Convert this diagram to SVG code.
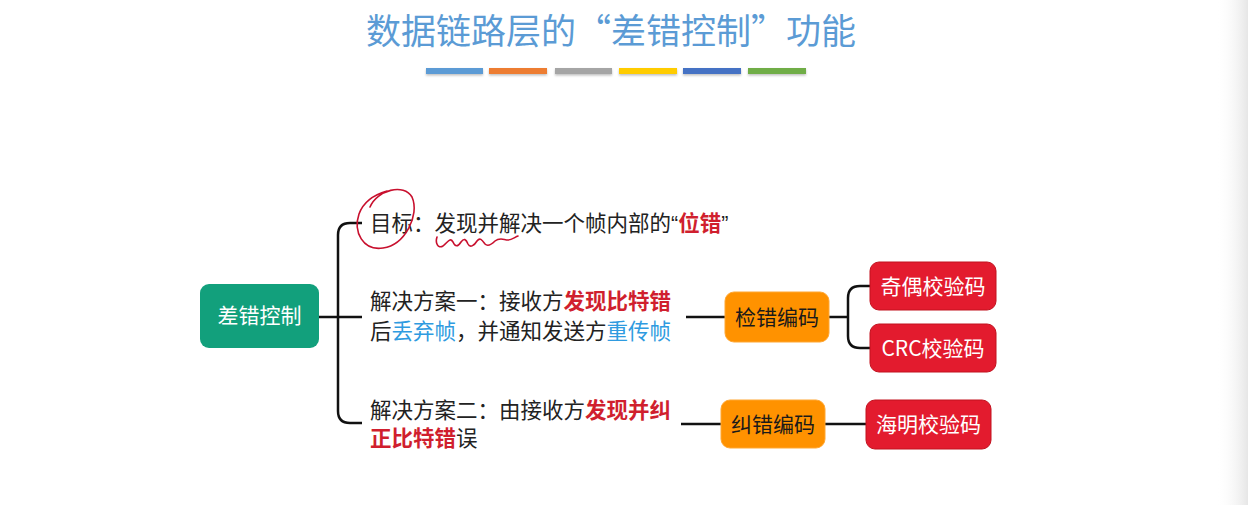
<svg xmlns="http://www.w3.org/2000/svg" width="1248" height="505" viewBox="0 0 1248 505">
  <defs>
    <linearGradient id="edge" x1="0" y1="0" x2="1" y2="0">
      <stop offset="0" stop-color="#ffffff" stop-opacity="0"/>
      <stop offset="1" stop-color="#e6e6e6"/>
    </linearGradient>
    <filter id="barShadow" x="-5%" y="-50%" width="110%" height="250%">
      <feDropShadow dx="0" dy="1.5" stdDeviation="1" flood-color="#000" flood-opacity="0.25"/>
    </filter>
    <style>
      .cjk { font-family: "Noto Sans CJK SC", "Noto Sans", sans-serif; }
      .mix { font-family: "Liberation Sans", "Noto Sans CJK SC", sans-serif; }
      .title { font-size: 35px; fill: #5b9bd5; }
      .body { font-size: 21.5px; fill: #222; }
      .red { fill: #d01f2e; font-weight: bold; }
      .blue { fill: #2f9be0; }
      .wire { fill: none; stroke: #111; stroke-width: 2.5; }
      .ink { fill: none; stroke: #c8102e; stroke-width: 1.6; stroke-linecap: round; stroke-linejoin: round; }
      .root rect { fill: #12a07c; }
      .root text { fill: #fff; font-size: 21px; }
      .mid rect { fill: #ff9200; stroke: #ffa733; stroke-width: 1; }
      .mid text { fill: #1a1a1a; font-size: 21px; }
      .leaf rect { fill: #e31b2e; stroke: #c2121f; stroke-width: 1; }
      .leaf text { fill: #fff; font-size: 21px; }
    </style>
  </defs>

  <rect width="1248" height="505" fill="#ffffff"/>
  <rect x="1216" y="0" width="32" height="505" fill="url(#edge)"/>

  <!-- heading -->
  <text class="cjk title" x="611" y="44" text-anchor="middle">数据链路层的“差错控制”功能</text>
  <g filter="url(#barShadow)">
    <rect x="426" y="68" width="57" height="6" fill="#5b9bd5"/>
    <rect x="489" y="68" width="58" height="6" fill="#ed7d31"/>
    <rect x="555" y="68" width="57" height="6" fill="#a5a5a5"/>
    <rect x="619" y="68" width="58" height="6" fill="#ffcc00"/>
    <rect x="683" y="68" width="58" height="6" fill="#4472c4"/>
    <rect x="748" y="68" width="58" height="6" fill="#70ad47"/>
  </g>

  <!-- connectors -->
  <g id="connectors">
    <path class="wire" d="M319,317 H362"/>
    <path class="wire" d="M362,223 H350 Q338,223 338,235 V411 Q338,423 350,423 H362"/>
    <path class="wire" d="M686,317 H725"/>
    <path class="wire" d="M829,317 H848"/>
    <path class="wire" d="M870,286 H860 Q848,286 848,298 V336 Q848,348 860,348 H870"/>
    <path class="wire" d="M681,424 H721"/>
    <path class="wire" d="M825,424 H866"/>
  </g>

  <!-- root -->
  <g id="node-root" class="root">
    <rect x="200" y="284" width="119" height="64" rx="9"/>
    <text class="cjk" x="259.5" y="323" text-anchor="middle">差错控制</text>
  </g>

  <!-- text branches -->
  <g id="node-goal">
    <text class="mix body" x="370" y="231">目标：发现并解决一个帧内部的“<tspan class="red">位错</tspan>”</text>
  </g>
  <g id="node-plan1">
    <text class="cjk body" x="370" y="309">解决方案一：接收方<tspan class="red">发现比特错</tspan></text>
    <text class="cjk body" x="370" y="339">后<tspan class="blue">丢弃帧</tspan>，并通知发送方<tspan class="blue">重传帧</tspan></text>
  </g>
  <g id="node-plan2">
    <text class="cjk body" x="370" y="418">解决方案二：由接收方<tspan class="red">发现并纠</tspan></text>
    <text class="cjk body" x="370" y="446"><tspan class="red">正比特错</tspan>误</text>
  </g>

  <!-- handwritten marks -->
  <g id="marks">
    <path class="ink" d="M370,207 C377,190 404,183 412,197 C420,215 405,245 383,248 C363,251 353,232 359,214 C363,203 373,195 387,191"/>
    <path class="ink" d="M437,237 C435,243 438,249 443,246 C448,242 450,237 453,242 C455,247 458,247 461,242 C464,238 466,239 468,244 C470,248 474,246 477,241 C480,237 482,240 485,244 C488,247 492,244 495,241 C500,237 504,240 508,240 C512,240 515,237 518,236"/>
  </g>

  <!-- coding nodes -->
  <g id="node-detect" class="mid">
    <rect x="725" y="292" width="104" height="50" rx="9"/>
    <text class="cjk" x="777" y="324.5" text-anchor="middle">检错编码</text>
  </g>
  <g id="node-correct" class="mid">
    <rect x="721" y="400" width="104" height="48" rx="9"/>
    <text class="cjk" x="773" y="431.5" text-anchor="middle">纠错编码</text>
  </g>

  <!-- check codes -->
  <g id="node-parity" class="leaf">
    <rect x="870" y="262" width="126" height="48" rx="9"/>
    <text class="cjk" x="933" y="293.5" text-anchor="middle">奇偶校验码</text>
  </g>
  <g id="node-crc" class="leaf">
    <rect x="870" y="324" width="126" height="48" rx="9"/>
    <text class="cjk" x="933" y="355.5" text-anchor="middle">CRC校验码</text>
  </g>
  <g id="node-hamming" class="leaf">
    <rect x="866" y="400" width="125" height="49" rx="9"/>
    <text class="cjk" x="928.5" y="432" text-anchor="middle">海明校验码</text>
  </g>
</svg>
